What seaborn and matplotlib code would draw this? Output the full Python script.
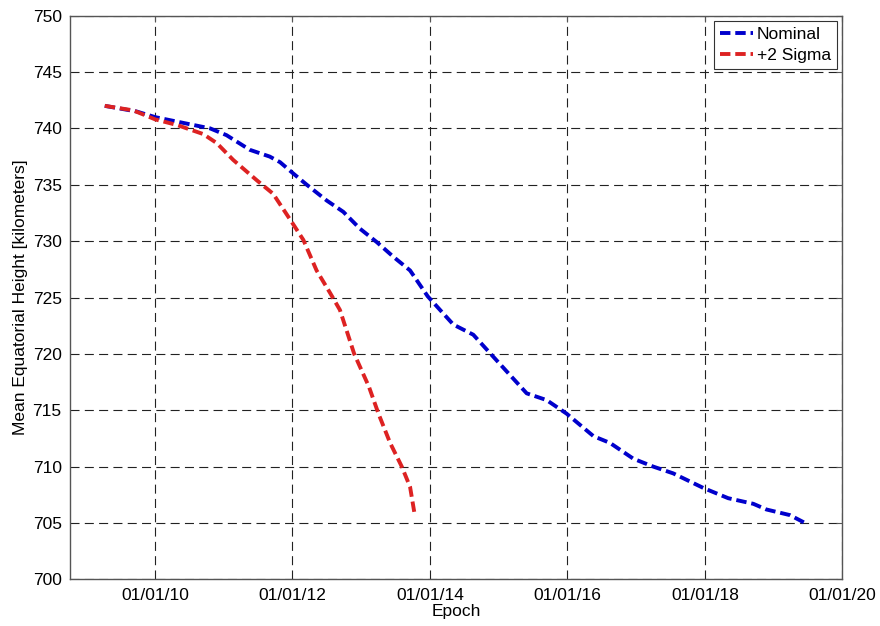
import matplotlib
matplotlib.use("Agg")
import matplotlib.pyplot as plt
import matplotlib.dates as mdates
import pandas as pd
import seaborn as sns

# Nominal decay profile
nominal_dates = [
    "2009-04-08", "2009-09-24", "2010-01-01", "2010-07-24", "2010-10-20",
    "2011-01-15", "2011-05-19", "2011-09-02", "2011-10-27", "2012-01-05",
    "2012-03-17", "2012-07-01", "2012-09-27", "2012-12-25", "2013-03-25",
    "2013-06-21", "2013-09-17", "2013-12-20", "2014-05-05", "2014-08-19",
    "2014-12-06", "2015-05-30", "2015-09-13", "2015-12-28", "2016-05-19",
    "2016-08-15", "2016-12-17", "2017-04-02", "2017-07-17", "2017-12-25",
    "2018-05-05", "2018-09-16", "2018-11-24", "2019-03-29", "2019-06-18",
]
nominal_height = [
    742.0, 741.5, 741.0, 740.3, 740.0,
    739.4, 738.1, 737.5, 737.0, 736.0,
    735.0, 733.6, 732.6, 731.1, 729.9,
    728.6, 727.4, 725.1, 722.6, 721.7,
    719.7, 716.5, 715.9, 714.7, 712.7,
    712.1, 710.7, 710.0, 709.4, 708.1,
    707.2, 706.7, 706.2, 705.7, 705.0,
]

# +2 sigma solar activity profile
sigma_dates = [
    "2009-04-08", "2009-09-06", "2010-01-01", "2010-04-27", "2010-09-13",
    "2010-11-24", "2011-02-20", "2011-06-25", "2011-09-20", "2011-12-20",
    "2012-02-28", "2012-05-08", "2012-07-19", "2012-09-09", "2012-11-24",
    "2013-02-10", "2013-04-02", "2013-06-03", "2013-08-04", "2013-09-17",
    "2013-10-12",
]
sigma_height = [
    742.0, 741.6, 740.8, 740.3, 739.5,
    738.7, 737.2, 735.4, 734.2, 731.9,
    730.1, 727.4, 725.4, 723.9, 720.0,
    717.1, 714.7, 712.1, 710.0, 708.2,
    705.7,
]

series_names = ["Nominal", "+2 Sigma"]
series_colors = ["#0000cc", "#dd2222"]

sns.set_style("white")
plt.rcParams["font.family"] = ["Liberation Sans", "DejaVu Sans"]
plt.rcParams["lines.scale_dashes"] = False
plt.rcParams["text.color"] = "black"
plt.rcParams["axes.labelcolor"] = "black"
plt.rcParams["xtick.color"] = "black"
plt.rcParams["ytick.color"] = "black"

nominal = pd.DataFrame({"Epoch": pd.to_datetime(nominal_dates), "Height": nominal_height})
sigma = pd.DataFrame({"Epoch": pd.to_datetime(sigma_dates), "Height": sigma_height})

fig = plt.figure(figsize=(8.8, 6.26), dpi=100)
ax = fig.add_axes([0.0795, 0.0745, 0.8775, 0.9005])

dash = (0, (7.5, 3.5))
for df, name, col in zip([nominal, sigma], series_names, series_colors):
    sns.lineplot(data=df, x="Epoch", y="Height", ax=ax, color=col,
                 linewidth=2.8, linestyle=dash, label=name, sort=False)

ax.set_xlim(pd.Timestamp("2008-10-05"), pd.Timestamp("2020-01-01"))
ax.set_ylim(700, 750)
ax.set_yticks(range(700, 751, 5))
ax.xaxis.set_major_locator(mdates.YearLocator(base=2))
ax.xaxis.set_major_formatter(mdates.DateFormatter("%m/%d/%y"))

ax.grid(True, color="#222222", linestyle=(0, (6.5, 3.8)), linewidth=0.8)
ax.set_axisbelow(True)
for s in ax.spines.values():
    s.set_color("#555555")
    s.set_linewidth(1.0)
ax.tick_params(direction="in", length=4, width=0.8, color="#555555",
               labelcolor="black", labelsize=12.5, top=True, right=True, pad=6)

ax.set_xlabel("Epoch", fontsize=12.5, labelpad=1, color="black")
ax.set_ylabel("Mean Equatorial Height [kilometers]", fontsize=12.5, labelpad=3,
              color="black")

leg = ax.legend(loc="upper right", fontsize=12.5, frameon=True, fancybox=False,
                edgecolor="black", handlelength=1.9, handletextpad=0.2,
                borderpad=0.35, labelspacing=0.35, borderaxespad=0.3)
leg.get_frame().set_linewidth(0.8)
for t in leg.get_texts():
    t.set_color("black")

fig.savefig("out.png", dpi=100, facecolor="white")
